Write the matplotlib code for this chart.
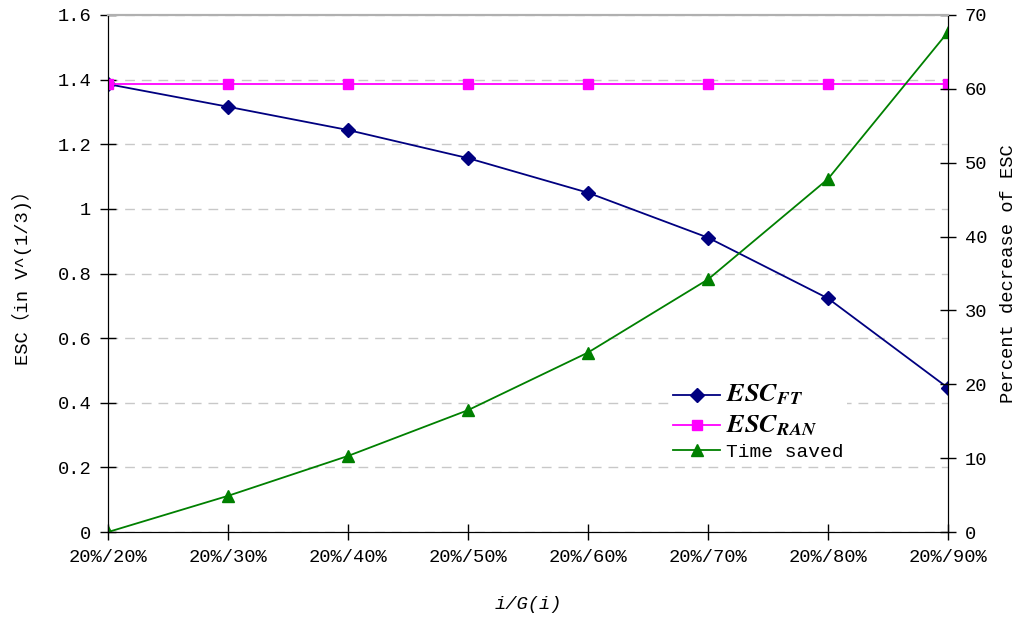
import matplotlib
matplotlib.use('Agg')
import matplotlib.pyplot as plt

plt.rcParams['font.family'] = ['Liberation Mono', 'Noto Sans CJK SC']
plt.rcParams['mathtext.fontset'] = 'stix'

categories = ['20%/20%', '20%/30%', '20%/40%', '20%/50%',
              '20%/60%', '20%/70%', '20%/80%', '20%/90%']
esc_ft = [1.386, 1.316, 1.244, 1.157, 1.050, 0.911, 0.723, 0.446]
esc_ran = [1.386, 1.386, 1.386, 1.386, 1.386, 1.386, 1.386, 1.386]
time_saved = [0.0, 4.9, 10.3, 16.5, 24.3, 34.2, 47.8, 67.7]

left_ticks = [0, 0.2, 0.4, 0.6, 0.8, 1, 1.2, 1.4, 1.6]
left_ticklabels = ['0', '0.2', '0.4', '0.6', '0.8', '1', '1.2', '1.4', '1.6']
right_ticks = [0, 10, 20, 30, 40, 50, 60, 70]

x = list(range(len(categories)))

fig = plt.figure(figsize=(10.21, 6.19), dpi=100)
ax = fig.add_axes([0.1058, 0.1405, 0.8227, 0.8353])
ax2 = ax.twinx()

l1, = ax.plot(x, esc_ft, color='#000080', lw=1.3, marker='D', ms=7,
              label=r'$\mathbfit{ESC}_{\mathbfit{FT}}$')
l2, = ax.plot(x, esc_ran, color='#ff00ff', lw=1.3, marker='s', ms=7,
              label=r'$\mathbfit{ESC}_{\mathbfit{RAN}}$')
l3, = ax2.plot(x, time_saved, color='#008000', lw=1.3, marker='^', ms=9,
               label='Time saved')

ax.set_xlim(0, 7)
ax.set_ylim(0, 1.6)
ax2.set_ylim(0, 70)

ax.set_xticks(x)
ax.set_xticklabels(categories, fontsize=13.5)
ax.set_yticks(left_ticks)
ax.set_yticklabels(left_ticklabels, fontsize=13.5)
ax2.set_yticks(right_ticks)
ax2.set_yticklabels([str(t) for t in right_ticks], fontsize=13.5)

for a in (ax, ax2):
    a.tick_params(direction='inout', length=12, width=1, pad=6)
    a.spines['top'].set_color('#b0b0b0')
    a.spines['top'].set_linewidth(1.5)

ax.yaxis.grid(True, linestyle=(0, (7, 5)), color='#c8c8c8', lw=1)
ax.set_axisbelow(True)

ax.set_xlabel('i/G(i)', fontsize=13.5, style='italic', labelpad=22)
ax.set_ylabel('ESC（in V^(1/3)）', fontsize=13.5)
ax.yaxis.set_label_coords(-0.090, 0.5)
ax2.set_ylabel('Percent decrease of ESC', fontsize=13.5)
ax2.yaxis.set_label_coords(1.062, 0.5)

leg = ax2.legend(handles=[l1, l2, l3], loc='upper left',
                 bbox_to_anchor=(0.657, 0.315), frameon=True, fancybox=False,
                 edgecolor='none', facecolor='white', framealpha=1,
                 fontsize=14, handlelength=2.4, labelspacing=0.3,
                 handletextpad=0.3, borderpad=0.2)
# the ESC entries use a larger math font
for t in leg.get_texts()[:2]:
    t.set_fontsize(19)

fig.savefig('out.png', dpi=100)
